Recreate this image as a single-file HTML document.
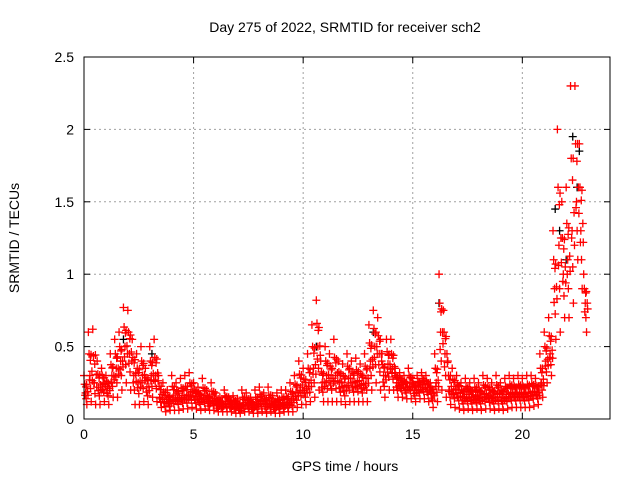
<!DOCTYPE html>
<html><head><meta charset="utf-8"><style>
body{margin:0;background:#fff}
svg{display:block;font-family:"Liberation Sans",sans-serif;font-size:14px}
</style></head><body>
<svg id="chart" width="640" height="480">
<text x="345" y="32" text-anchor="middle">Day 275 of 2022, SRMTID for receiver sch2</text>
<text x="345" y="471" text-anchor="middle">GPS time / hours</text>
<text transform="translate(19,238) rotate(-90)" text-anchor="middle">SRMTID / TECUs</text>
<g id="grid"></g>
<g id="ticks"></g>
<g id="black"></g>
<g id="pts"></g>
<rect x="84" y="57" width="526" height="362" fill="none" stroke="#000" stroke-width="1"/>
</svg>
<script>
const xTicks=[0,5,10,15,20];
const yTicks=[0,0.5,1,1.5,2,2.5];
const yTickLabels=["0","0.5","1","1.5","2","2.5"];
const step=0.2;
const hi=[0.3,0.6,0.62,0.4,0.35,0.3,0.45,0.55,0.6,0.77,0.75,0.55,0.45,0.5,0.35,0.5,0.55,0.3,0.25,0.2,0.3,0.25,0.28,0.3,0.32,0.25,0.22,0.28,0.2,0.25,0.18,0.15,0.2,0.15,0.16,0.14,0.2,0.18,0.15,0.2,0.22,0.18,0.22,0.16,0.18,0.2,0.2,0.25,0.3,0.4,0.35,0.45,0.65,0.82,0.4,0.5,0.45,0.55,0.4,0.38,0.45,0.4,0.42,0.38,0.45,0.65,0.75,0.7,0.45,0.55,0.55,0.35,0.32,0.3,0.35,0.28,0.3,0.32,0.3,0.25,0.45,1.0,0.75,0.4,0.35,0.3,0.25,0.28,0.25,0.28,0.25,0.3,0.28,0.25,0.3,0.25,0.28,0.3,0.28,0.3,0.28,0.3,0.3,0.28,0.45,0.6,0.7,1.3,2.0,1.5,1.6,2.3,2.3,1.9,1.0];
const mid=[0.18,0.3,0.25,0.22,0.25,0.22,0.3,0.35,0.4,0.5,0.45,0.3,0.25,0.3,0.22,0.3,0.3,0.15,0.12,0.12,0.15,0.14,0.15,0.15,0.18,0.15,0.14,0.15,0.12,0.13,0.1,0.1,0.12,0.1,0.1,0.08,0.1,0.1,0.09,0.1,0.12,0.1,0.11,0.09,0.1,0.1,0.11,0.13,0.18,0.22,0.2,0.25,0.35,0.5,0.25,0.3,0.28,0.3,0.25,0.22,0.28,0.25,0.26,0.24,0.28,0.4,0.5,0.45,0.3,0.38,0.35,0.25,0.24,0.22,0.25,0.2,0.22,0.24,0.22,0.18,0.25,0.6,0.45,0.2,0.2,0.18,0.15,0.17,0.15,0.16,0.15,0.17,0.16,0.15,0.17,0.15,0.17,0.18,0.17,0.18,0.17,0.18,0.19,0.18,0.25,0.4,0.45,0.9,1.2,1.0,1.1,1.3,1.5,1.3,0.8];
const lo=[0.1,0.12,0.1,0.1,0.12,0.1,0.15,0.15,0.2,0.25,0.2,0.1,0.1,0.12,0.1,0.15,0.12,0.08,0.05,0.06,0.06,0.06,0.07,0.07,0.08,0.07,0.06,0.07,0.06,0.06,0.05,0.05,0.05,0.05,0.04,0.04,0.05,0.05,0.04,0.04,0.05,0.04,0.05,0.04,0.04,0.05,0.05,0.05,0.08,0.1,0.1,0.12,0.15,0.2,0.12,0.12,0.12,0.12,0.12,0.1,0.12,0.12,0.12,0.12,0.12,0.2,0.25,0.2,0.15,0.2,0.2,0.15,0.15,0.14,0.14,0.12,0.14,0.14,0.12,0.08,0.12,0.2,0.15,0.1,0.08,0.07,0.06,0.07,0.06,0.07,0.06,0.07,0.07,0.06,0.07,0.06,0.07,0.08,0.08,0.08,0.08,0.08,0.09,0.1,0.15,0.25,0.3,0.55,0.6,0.7,0.7,0.8,1.1,0.9,0.6];
const blackT=[1.8,3.1,10.6,13.2,16.2,21.5,21.7,22.0,22.3,22.5,22.6];
const blackV=[0.55,0.45,0.5,0.6,0.8,1.45,1.3,1.1,1.95,1.6,1.85];
const NS='http://www.w3.org/2000/svg';
const X0=84,X1=610,Y0=419,Y1=57,XMAX=24,YMAX=2.5;
function xs(v){return X0+(X1-X0)*v/XMAX;}
function ys(v){return Y0-(Y0-Y1)*v/YMAX;}
function mk(tag,attrs,parent){const e=document.createElementNS(NS,tag);for(const k in attrs)e.setAttribute(k,attrs[k]);parent.appendChild(e);return e;}
const grid=document.getElementById('grid'),ticks=document.getElementById('ticks');
xTicks.forEach((v,i)=>{
 const x=xs(v);
 if(i>0){const g=mk('line',{x1:x,x2:x,y1:Y1,y2:Y0,stroke:'#a0a0a0','stroke-dasharray':'2,3'},grid);
 
 }
 mk('line',{x1:x,x2:x,y1:Y0,y2:Y0-6,stroke:'#000'},ticks);
 mk('line',{x1:x,x2:x,y1:Y1,y2:Y1+6,stroke:'#000'},ticks);
 const t=mk('text',{x:x,y:Y0+20,'text-anchor':'middle'},ticks);t.textContent=String(v);
 
 
});
yTicks.forEach((v,i)=>{
 const y=ys(v);
 if(i>0&&i<yTicks.length-1){const g=mk('line',{x1:X0,x2:X1,y1:y,y2:y,stroke:'#a0a0a0','stroke-dasharray':'2,3'},grid);
 
 }
 mk('line',{x1:X0,x2:X0+6,y1:y,y2:y,stroke:'#000'},ticks);
 mk('line',{x1:X1,x2:X1-6,y1:y,y2:y,stroke:'#000'},ticks);
 const t=mk('text',{x:X0-10,y:y+5,'text-anchor':'end'},ticks);t.textContent=yTickLabels[i];
 
 
});
function plus(t,v,color,parent){
 const x=xs(t),y=ys(v);
 const p=mk('path',{d:`M${x-4},${y}h8M${x},${y-4}v8`,stroke:color,'stroke-width':1.3,fill:'none'},parent);
 
 
}
const blk=document.getElementById('black'),pts=document.getElementById('pts');
blackT.forEach((t,i)=>plus(t,blackV[i],'#000',blk));
const mixes=[[1,0,0,0],[0,1,0,0.07],[0,0,1,0.13],[0,0.5,0.5,0.1],[0.5,0.5,0,0.03],[0.25,0.5,0.25,0.16],[0.2,0.3,0.5,0.05],[0.6,0.2,0.2,0.12],[0,0.8,0.2,0.18],[0.35,0.65,0,0.09]];
mixes.forEach(m=>{
 hi.forEach((v,i)=>plus(i*step+m[3],m[0]*v+m[1]*mid[i]+m[2]*lo[i],'#ff0000',pts));
});
</script>
</body></html>
